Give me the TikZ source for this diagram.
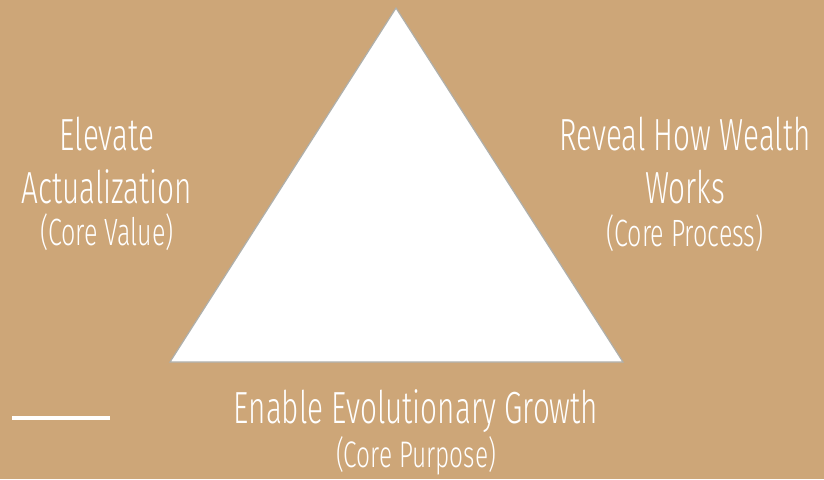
\documentclass[tikz,border=0pt]{standalone}
\usepackage{fontspec}
\setmainfont{Fira Sans}[UprightFont=* Light, FakeStretch=0.66]
\definecolor{sand}{RGB}{205,166,120}
\definecolor{edgegray}{RGB}{175,175,170}

\begin{document}
\begin{tikzpicture}[x=1pt, y=-1pt, every node/.style={text=white, align=center, inner sep=0}]
  \fill[sand] (0,0) rectangle (824,479);
  \useasboundingbox (0,0) rectangle (824,479);

  \coordinate (top) at (396, 8);
  \coordinate (left) at (170, 362);
  \coordinate (right) at (623, 362);

  \filldraw[fill=white, draw=edgegray, line width=1.2pt, line join=miter]
    (top) -- (left) -- (right) -- cycle;

  \node[font=\fontsize{45}{53}\selectfont]
    (value) at (107, 161) {Elevate\\Actualization};
  \node[font=\fontsize{38}{44}\selectfont]
    (valuesub) at (107, 232) {(Core Value)};

  \node[font=\fontsize{45}{53}\selectfont]
    (process) at (685, 161) {Reveal How Wealth\\Works};
  \node[font=\fontsize{38}{44}\selectfont]
    (processsub) at (685, 233) {(Core Process)};

  \node[font=\fontsize{45}{53}\selectfont]
    (purpose) at (416, 411) {Enable Evolutionary Growth};
  \node[font=\fontsize{37}{44}\selectfont]
    (purposesub) at (416, 456) {(Core Purpose)};

  \coordinate (rulestart) at (12, 418);
  \coordinate (ruleend) at (110, 418);
  \draw[white, line width=4pt] (rulestart) -- (ruleend);
\end{tikzpicture}
\end{document}
